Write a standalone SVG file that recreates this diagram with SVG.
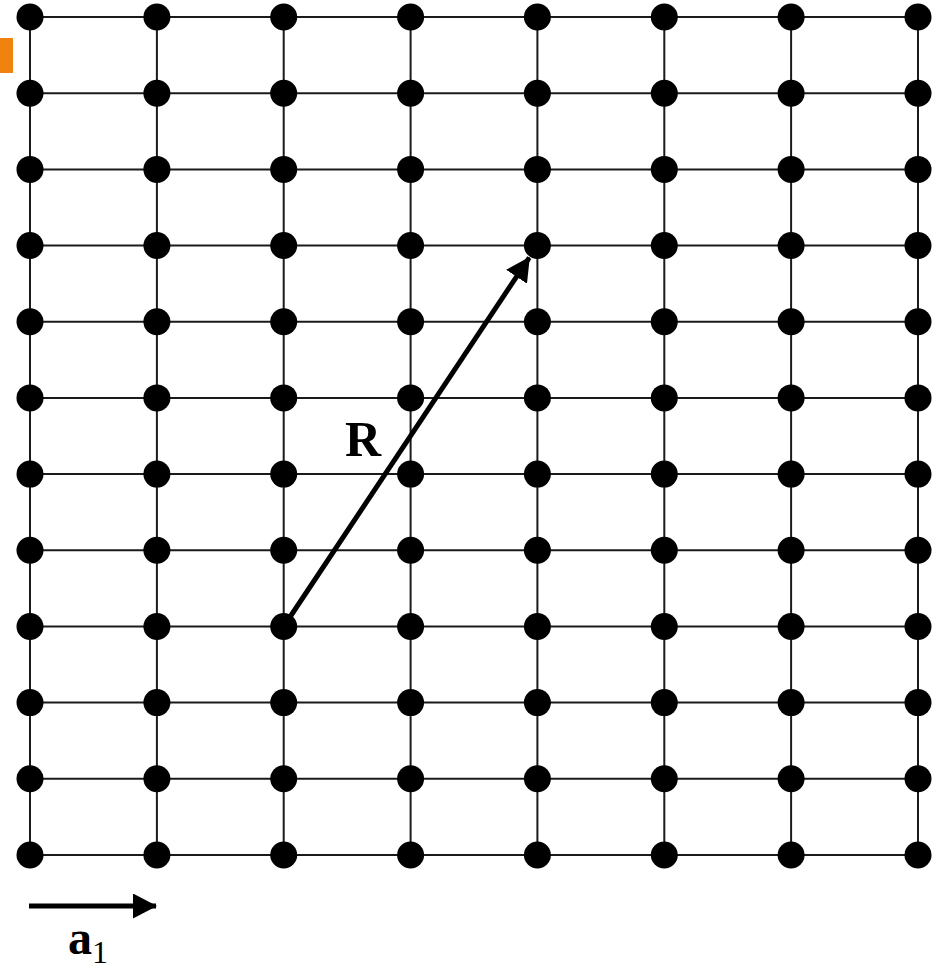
<svg xmlns="http://www.w3.org/2000/svg" width="933" height="971" viewBox="0 0 933 971">
<style>
.grid line{stroke:#1a1a1a;stroke-width:2}
.dot{fill:#000}
.vec{stroke:#000;stroke-width:5;fill:none}
.lbl{font-family:"Liberation Serif","DejaVu Serif",serif;fill:#000}
</style>
<defs>
<marker id="ah" viewBox="0 0 24 25" markerWidth="24" markerHeight="25" markerUnits="userSpaceOnUse" refX="23" refY="12.5" orient="auto">
<path d="M0,0 L24,12.5 L0,25 z" fill="#000"/>
</marker>
<circle id="d" r="13.5" class="dot"/>
</defs>
<rect width="933" height="971" fill="#fff"/>
<rect x="0" y="38" width="13" height="35" fill="#F0830F"/>
<g class="grid" id="connectors">
<line x1="30" y1="17" x2="918" y2="17"/>
<line x1="30" y1="93.2" x2="918" y2="93.2"/>
<line x1="30" y1="169.4" x2="918" y2="169.4"/>
<line x1="30" y1="245.5" x2="918" y2="245.5"/>
<line x1="30" y1="321.7" x2="918" y2="321.7"/>
<line x1="30" y1="397.9" x2="918" y2="397.9"/>
<line x1="30" y1="474.1" x2="918" y2="474.1"/>
<line x1="30" y1="550.3" x2="918" y2="550.3"/>
<line x1="30" y1="626.5" x2="918" y2="626.5"/>
<line x1="30" y1="702.6" x2="918" y2="702.6"/>
<line x1="30" y1="778.8" x2="918" y2="778.8"/>
<line x1="30" y1="855" x2="918" y2="855"/>
<line x1="30" y1="17" x2="30" y2="855"/>
<line x1="156.9" y1="17" x2="156.9" y2="855"/>
<line x1="283.7" y1="17" x2="283.7" y2="855"/>
<line x1="410.6" y1="17" x2="410.6" y2="855"/>
<line x1="537.4" y1="17" x2="537.4" y2="855"/>
<line x1="664.3" y1="17" x2="664.3" y2="855"/>
<line x1="791.1" y1="17" x2="791.1" y2="855"/>
<line x1="918" y1="17" x2="918" y2="855"/>
</g>
<g id="nodes">
<g id="row0"><use href="#d" x="30" y="17"/><use href="#d" x="156.9" y="17"/><use href="#d" x="283.7" y="17"/><use href="#d" x="410.6" y="17"/><use href="#d" x="537.4" y="17"/><use href="#d" x="664.3" y="17"/><use href="#d" x="791.1" y="17"/><use href="#d" x="918" y="17"/></g>
<g id="row1"><use href="#d" x="30" y="93.2"/><use href="#d" x="156.9" y="93.2"/><use href="#d" x="283.7" y="93.2"/><use href="#d" x="410.6" y="93.2"/><use href="#d" x="537.4" y="93.2"/><use href="#d" x="664.3" y="93.2"/><use href="#d" x="791.1" y="93.2"/><use href="#d" x="918" y="93.2"/></g>
<g id="row2"><use href="#d" x="30" y="169.4"/><use href="#d" x="156.9" y="169.4"/><use href="#d" x="283.7" y="169.4"/><use href="#d" x="410.6" y="169.4"/><use href="#d" x="537.4" y="169.4"/><use href="#d" x="664.3" y="169.4"/><use href="#d" x="791.1" y="169.4"/><use href="#d" x="918" y="169.4"/></g>
<g id="row3"><use href="#d" x="30" y="245.5"/><use href="#d" x="156.9" y="245.5"/><use href="#d" x="283.7" y="245.5"/><use href="#d" x="410.6" y="245.5"/><use href="#d" x="537.4" y="245.5"/><use href="#d" x="664.3" y="245.5"/><use href="#d" x="791.1" y="245.5"/><use href="#d" x="918" y="245.5"/></g>
<g id="row4"><use href="#d" x="30" y="321.7"/><use href="#d" x="156.9" y="321.7"/><use href="#d" x="283.7" y="321.7"/><use href="#d" x="410.6" y="321.7"/><use href="#d" x="537.4" y="321.7"/><use href="#d" x="664.3" y="321.7"/><use href="#d" x="791.1" y="321.7"/><use href="#d" x="918" y="321.7"/></g>
<g id="row5"><use href="#d" x="30" y="397.9"/><use href="#d" x="156.9" y="397.9"/><use href="#d" x="283.7" y="397.9"/><use href="#d" x="410.6" y="397.9"/><use href="#d" x="537.4" y="397.9"/><use href="#d" x="664.3" y="397.9"/><use href="#d" x="791.1" y="397.9"/><use href="#d" x="918" y="397.9"/></g>
<g id="row6"><use href="#d" x="30" y="474.1"/><use href="#d" x="156.9" y="474.1"/><use href="#d" x="283.7" y="474.1"/><use href="#d" x="410.6" y="474.1"/><use href="#d" x="537.4" y="474.1"/><use href="#d" x="664.3" y="474.1"/><use href="#d" x="791.1" y="474.1"/><use href="#d" x="918" y="474.1"/></g>
<g id="row7"><use href="#d" x="30" y="550.3"/><use href="#d" x="156.9" y="550.3"/><use href="#d" x="283.7" y="550.3"/><use href="#d" x="410.6" y="550.3"/><use href="#d" x="537.4" y="550.3"/><use href="#d" x="664.3" y="550.3"/><use href="#d" x="791.1" y="550.3"/><use href="#d" x="918" y="550.3"/></g>
<g id="row8"><use href="#d" x="30" y="626.5"/><use href="#d" x="156.9" y="626.5"/><use href="#d" x="283.7" y="626.5"/><use href="#d" x="410.6" y="626.5"/><use href="#d" x="537.4" y="626.5"/><use href="#d" x="664.3" y="626.5"/><use href="#d" x="791.1" y="626.5"/><use href="#d" x="918" y="626.5"/></g>
<g id="row9"><use href="#d" x="30" y="702.6"/><use href="#d" x="156.9" y="702.6"/><use href="#d" x="283.7" y="702.6"/><use href="#d" x="410.6" y="702.6"/><use href="#d" x="537.4" y="702.6"/><use href="#d" x="664.3" y="702.6"/><use href="#d" x="791.1" y="702.6"/><use href="#d" x="918" y="702.6"/></g>
<g id="row10"><use href="#d" x="30" y="778.8"/><use href="#d" x="156.9" y="778.8"/><use href="#d" x="283.7" y="778.8"/><use href="#d" x="410.6" y="778.8"/><use href="#d" x="537.4" y="778.8"/><use href="#d" x="664.3" y="778.8"/><use href="#d" x="791.1" y="778.8"/><use href="#d" x="918" y="778.8"/></g>
<g id="row11"><use href="#d" x="30" y="855"/><use href="#d" x="156.9" y="855"/><use href="#d" x="283.7" y="855"/><use href="#d" x="410.6" y="855"/><use href="#d" x="537.4" y="855"/><use href="#d" x="664.3" y="855"/><use href="#d" x="791.1" y="855"/><use href="#d" x="918" y="855"/></g>
</g>
<g id="vectors">
<line class="vec" x1="287" y1="621.5" x2="529.3" y2="257.6" marker-end="url(#ah)"/>
<line class="vec" x1="29" y1="906" x2="156" y2="906" marker-end="url(#ah)"/>
</g>
<g id="labels">
<text class="lbl" x="345" y="456" font-size="50" font-weight="bold">R</text>
<text class="lbl" x="68" y="954" font-size="48" font-weight="bold">a<tspan font-weight="normal" font-size="32" dy="9">1</tspan></text>
</g>
</svg>
